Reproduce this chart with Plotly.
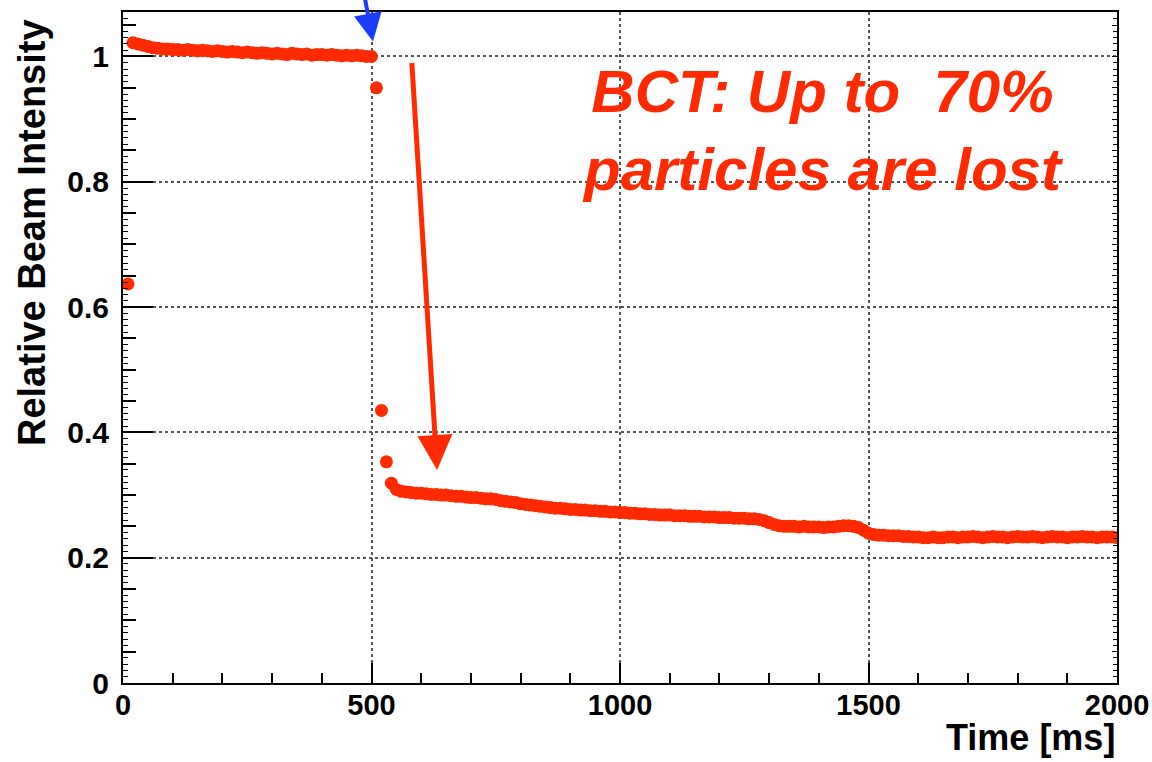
import plotly.graph_objects as go

# ---- data ----
time_ms_a = [10, 20, 30, 40, 50, 60, 70, 80, 90, 100, 110, 120, 130, 140, 150, 160, 170, 180, 190, 200,
             210, 220, 230, 240, 250, 260, 270, 280, 290, 300, 310, 320, 330, 340, 350, 360, 370, 380, 390, 400,
             410, 420, 430, 440, 450, 460, 470, 480, 490, 500]
intensity_a = [0.637, 1.022, 1.020, 1.018, 1.016, 1.014, 1.013, 1.012, 1.012, 1.011, 1.011, 1.010, 1.011, 1.010,
               1.009, 1.010, 1.009, 1.008, 1.009, 1.008, 1.007, 1.008, 1.007, 1.006, 1.007, 1.006, 1.005, 1.006,
               1.005, 1.004, 1.005, 1.004, 1.003, 1.005, 1.004, 1.003, 1.004, 1.002, 1.003, 1.003, 1.002, 1.003,
               1.002, 1.001, 1.002, 1.001, 1.002, 1.001, 1.000, 1.000]

time_ms_b = [510, 520, 530, 540, 550, 560, 570, 580, 590, 600, 610, 620, 630, 640, 650, 660, 670, 680, 690, 700,
             710, 720, 730, 740, 750, 760, 770, 780, 790, 800, 810, 820, 830, 840, 850, 860, 870, 880, 890, 900,
             910, 920, 930, 940, 950, 960, 970, 980, 990, 1000]
intensity_b = [0.950, 0.435, 0.353, 0.319, 0.309, 0.306, 0.305, 0.304, 0.303, 0.303, 0.302, 0.301, 0.301, 0.300,
               0.300, 0.299, 0.298, 0.298, 0.297, 0.296, 0.296, 0.295, 0.294, 0.294, 0.293, 0.291, 0.290, 0.289,
               0.288, 0.286, 0.285, 0.284, 0.283, 0.282, 0.281, 0.280, 0.279, 0.279, 0.278, 0.277, 0.277, 0.276,
               0.276, 0.275, 0.275, 0.274, 0.274, 0.273, 0.273, 0.272]

time_ms_c = [1010, 1020, 1030, 1040, 1050, 1060, 1070, 1080, 1090, 1100, 1110, 1120, 1130, 1140, 1150, 1160, 1170,
             1180, 1190, 1200, 1210, 1220, 1230, 1240, 1250, 1260, 1270, 1280, 1290, 1300, 1310, 1320, 1330, 1340,
             1350, 1360, 1370, 1380, 1390, 1400, 1410, 1420, 1430, 1440, 1450, 1460, 1470, 1480, 1490, 1500]
intensity_c = [0.272, 0.271, 0.271, 0.270, 0.270, 0.269, 0.269, 0.268, 0.268, 0.268, 0.267, 0.267, 0.267, 0.266,
               0.266, 0.266, 0.265, 0.265, 0.265, 0.264, 0.264, 0.264, 0.263, 0.263, 0.263, 0.262, 0.262, 0.261,
               0.259, 0.256, 0.253, 0.251, 0.250, 0.250, 0.250, 0.249, 0.250, 0.249, 0.249, 0.249, 0.248, 0.249,
               0.249, 0.250, 0.251, 0.251, 0.250, 0.248, 0.244, 0.239]

time_ms_d = [1510, 1520, 1530, 1540, 1550, 1560, 1570, 1580, 1590, 1600, 1610, 1620, 1630, 1640, 1650, 1660, 1670,
             1680, 1690, 1700, 1710, 1720, 1730, 1740, 1750, 1760, 1770, 1780, 1790, 1800, 1810, 1820, 1830, 1840,
             1850, 1860, 1870, 1880, 1890, 1900, 1910, 1920, 1930, 1940, 1950, 1960, 1970, 1980, 1990, 2000]
intensity_d = [0.237, 0.236, 0.236, 0.235, 0.235, 0.235, 0.234, 0.234, 0.233, 0.233, 0.232, 0.232, 0.233, 0.232,
               0.232, 0.233, 0.233, 0.232, 0.233, 0.233, 0.234, 0.233, 0.232, 0.233, 0.234, 0.233, 0.233, 0.232,
               0.233, 0.234, 0.233, 0.233, 0.234, 0.233, 0.232, 0.233, 0.234, 0.233, 0.233, 0.232, 0.233, 0.233,
               0.234, 0.233, 0.233, 0.232, 0.233, 0.233, 0.233, 0.232]

time_ms = time_ms_a + time_ms_b + time_ms_c + time_ms_d
intensity = intensity_a + intensity_b + intensity_c + intensity_d

x_tickvals = [0, 500, 1000, 1500, 2000]
y_tickvals = [0, 0.2, 0.4, 0.6, 0.8, 1.0]
y_ticktext = ["0", "0.2", "0.4", "0.6", "0.8", "1"]

annot_text = "BCT: Up to\u00a0\u00a070%<br>particles are lost"
x_title = "Time [ms]"
y_title = "Relative Beam Intensity"

RED = "#ff2a00"
BLUE = "#1a3cff"
AXFONT = "Liberation Sans, Arial, sans-serif"

fig = go.Figure()
fig.add_trace(go.Scatter(
    x=time_ms, y=intensity, mode="markers",
    marker=dict(color=RED, size=13, line=dict(width=0)),
    showlegend=False, hoverinfo="skip",
))
# helper traces to make the extra tick axes render
fig.add_trace(go.Scatter(x=[None], y=[None], yaxis="y2", showlegend=False))
fig.add_trace(go.Scatter(x=[None], y=[None], yaxis="y3", showlegend=False))

Y_RANGE = [0, 1.071]

fig.update_layout(
    width=1152, height=762,
    margin=dict(l=123, r=35, t=12, b=79, autoexpand=False),
    paper_bgcolor="white", plot_bgcolor="white",
    xaxis=dict(
        range=[0, 2000], tickvals=x_tickvals, ticktext=[str(v) for v in x_tickvals],
        ticks="inside", ticklen=20, tickwidth=1.5, tickcolor="black",
        minor=dict(dtick=100, ticks="inside", ticklen=10, tickwidth=1.5, tickcolor="black", showgrid=False),
        showgrid=True, gridcolor="#555555", griddash="dot", gridwidth=1.5,
        showline=True, linecolor="black", linewidth=2, mirror=True,
        zeroline=False, automargin=False,
        tickfont=dict(family=AXFONT, size=29, color="black", weight="bold"),
        ticklabelstandoff=-5,
    ),
    yaxis=dict(
        range=Y_RANGE, tickvals=y_tickvals, ticktext=y_ticktext,
        ticks="inside", ticklen=30, tickwidth=1.5, tickcolor="black",
        showgrid=True, gridcolor="#555555", griddash="dot", gridwidth=1.5,
        showline=True, linecolor="black", linewidth=2, mirror=True,
        zeroline=False, automargin=False,
        tickfont=dict(family=AXFONT, size=30, color="black", weight="bold"),
        ticklabelstandoff=6,
    ),
    yaxis2=dict(
        range=Y_RANGE, overlaying="y", side="left", anchor="x",
        dtick=0.05, tick0=0, ticks="inside", ticklen=13, tickwidth=1.5, tickcolor="black",
        minor=dict(dtick=0.01, ticks="inside", ticklen=5, tickwidth=1.2, tickcolor="black", showgrid=False),
        showticklabels=False, showgrid=False, zeroline=False, showline=False, automargin=False,
    ),
    yaxis3=dict(
        range=Y_RANGE, overlaying="y", side="right", anchor="x",
        dtick=0.05, tick0=0, ticks="inside", ticklen=5, tickwidth=1.2, tickcolor="black",
        minor=dict(dtick=0.01, ticks="inside", ticklen=4, tickwidth=1.2, tickcolor="black", showgrid=False),
        showticklabels=False, showgrid=False, zeroline=False, showline=False, automargin=False,
    ),
    annotations=[
        dict(
            text=annot_text, x=1409, y=0.882, xref="x", yref="y",
            xanchor="center", yanchor="middle", showarrow=False, align="center",
            font=dict(family="Liberation Sans, Arial, sans-serif", size=60, color=RED,
                      weight="bold", style="italic"),
        ),
        dict(
            x=632, y=0.340, ax=581, ay=0.992, xref="x", yref="y", axref="x", ayref="y",
            text="", showarrow=True, arrowhead=2, arrowsize=1.4, arrowwidth=5, arrowcolor=RED,
        ),
        dict(
            x=503, y=1.024, ax=485, ay=1.10, xref="x", yref="y", axref="x", ayref="y",
            text="", showarrow=True, arrowhead=2, arrowsize=1.4, arrowwidth=4, arrowcolor=BLUE,
        ),
        dict(
            text=x_title, x=1.0, y=-0.081, xref="paper", yref="paper",
            xanchor="right", yanchor="middle", showarrow=False,
            font=dict(family=AXFONT, size=36, color="black", weight="bold"),
        ),
        dict(
            text=y_title, x=-0.0916, y=0.672, xref="paper", yref="paper", textangle=-90,
            xanchor="center", yanchor="middle", showarrow=False,
            font=dict(family=AXFONT, size=38, color="black", weight="bold"),
        ),
    ],
)

fig.write_html("out.html")
